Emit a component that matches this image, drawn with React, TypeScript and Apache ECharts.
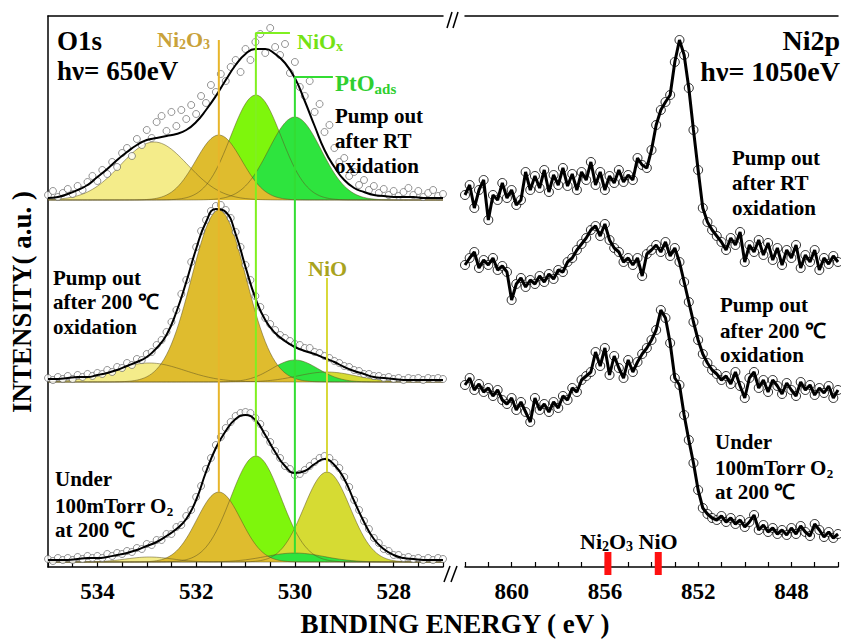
import React, { useEffect, useRef } from 'react';
import * as echarts from 'echarts';

const SERIF = "'Liberation Serif', 'Times New Roman', Times, serif";

// ---------- O1s (left panel) ----------
// measured points: 535.0 -> 527.0 eV, 0.1 eV step
const O1S_START = 535.0;
const O1S_STEP = 0.1;
// fit envelope: 535.0 -> 527.0 eV, 0.2 eV step
const FIT_STEP = 0.2;

// stacking offsets (a.u.)
const offRT = 367;
const off200 = 185;
const offUnder = 5;

const o1sDataRT = [
  5, 9, 3, 7, 11, 6, 14, 10, 18, 24,
  19, 30, 26, 38, 33, 47, 52, 44, 61, 55,
  70, 62, 78, 84, 69, 88, 74, 90, 81, 95,
  86, 104, 97, 115, 108, 126, 119, 133, 140, 128,
  151, 140, 158, 166, 147, 172, 153, 145, 156, 127,
  138, 113, 104, 119, 88, 96, 68, 75, 52, 38,
  42, 24, 28, 15, 20, 10, 14, 7, 11, 5,
  9, 4, 8, 12, 5, 9, 3, 7, 10, 4,
  6,
];
const o1sData200 = [
  4, 2, 5, 3, 6, 3, 7, 5, 8, 6,
  9, 8, 12, 10, 15, 14, 19, 17, 23, 22,
  28, 30, 37, 42, 50, 60, 72, 88, 102, 120,
  135, 151, 162, 171, 176, 177, 172, 164, 150, 135,
  117, 102, 86, 75, 64, 58, 52, 47, 44, 41,
  38, 37, 34, 34, 30, 29, 26, 24, 21, 19,
  16, 15, 12, 11, 8, 8, 6, 6, 4, 5,
  3, 4, 2, 4, 3, 4, 2, 4, 3, 4,
  3,
];
const o1sDataUnder = [
  3, 1, 4, 2, 4, 2, 5, 3, 6, 4,
  6, 4, 8, 6, 9, 8, 11, 10, 14, 13,
  18, 17, 22, 22, 28, 28, 35, 37, 46, 52,
  65, 76, 93, 104, 117, 125, 134, 140, 146, 149,
  150, 149, 144, 138, 128, 120, 111, 104, 96, 93,
  87, 88, 92, 96, 100, 104, 106, 104, 99, 94,
  85, 75, 62, 52, 41, 33, 24, 19, 13, 11,
  7, 7, 4, 5, 3, 4, 2, 4, 2, 4,
  3,
];

const o1sFitRT = [
  2, 3, 6, 10, 15, 23, 31, 40, 48, 55,
  60, 62, 64, 66, 70, 78, 90, 104, 120, 135,
  146, 151, 151, 146, 137, 122, 99, 74, 50, 33,
  20, 12, 8, 5, 4, 3, 3, 3, 2, 2,
  2,
];
const o1sFit200 = [
  3, 3, 4, 5, 5, 7, 9, 12, 16, 20,
  25, 34, 47, 70, 100, 133, 160, 173, 170, 148,
  115, 84, 62, 49, 41, 35, 31, 28, 24, 20,
  15, 11, 8, 5, 4, 3, 2, 2, 2, 2,
  2,
];
const o1sFitUnder = [
  2, 2, 2, 3, 4, 4, 5, 7, 9, 12,
  16, 20, 26, 33, 43, 62, 90, 114, 131, 143,
  147, 142, 127, 110, 96, 89, 91, 98, 103, 97,
  83, 61, 40, 23, 13, 7, 4, 3, 2, 2,
  2,
];

// fitted components: [center eV, height a.u., FWHM eV]
const peaksRT: Record<string, number[]> = {
  OH: [532.85, 58, 1.6],
  NiOx: [530.79, 105, 1.2],
  PtOads: [530.0, 83, 1.25],
  Ni2O3: [531.54, 65, 1.1],
};
const peaks200: Record<string, number[]> = {
  OH: [532.95, 19, 1.7],
  NiO: [529.35, 10, 1.4],
  PtOads: [530.0, 22, 1.1],
  Ni2O3: [531.54, 172, 1.3],
};
const peaksUnder: Record<string, number[]> = {
  OH: [532.95, 5, 1.1],
  NiOx: [530.79, 106, 1.2],
  NiO: [529.35, 90, 1.1],
  PtOads: [530.0, 9, 1.4],
  Ni2O3: [531.54, 70, 1.05],
};

// ---------- Ni2p (right panel) ----------
const NI_START = 862.0;
const NI_STEP = 0.2;
const ni2pRT = [
  372, 382, 359, 377, 387, 347, 372, 367, 384, 369,
  377, 362, 367, 395, 377, 391, 379, 397, 375, 392,
  382, 399, 381, 393, 377, 395, 387, 405, 382, 395,
  377, 391, 384, 397, 385, 392, 387, 409, 402, 399,
  417, 442, 457, 465, 472, 505, 527, 512, 479, 437,
  397, 359, 345, 337, 331, 325, 317, 329, 322, 335,
  305, 322, 315, 327, 312, 324, 307, 319, 302, 317,
  309, 322, 299, 312, 305, 317, 297, 309, 303, 311,
  305,
];
const ni2p200 = [
  302, 309, 315, 299, 307, 302, 309, 297, 301, 295,
  267, 283, 289, 280, 287, 283, 291, 285, 293, 288,
  297, 295, 305, 309, 317, 323, 329, 337, 341, 331,
  343, 327, 319, 315, 305, 309, 302, 309, 291, 313,
  317, 322, 315, 325, 311, 319, 305, 285, 265, 245,
  227, 213, 204, 197, 193, 187, 191, 183, 195, 181,
  169, 189, 195, 179, 187, 175, 187, 181, 173, 184,
  177, 171, 185, 177, 182, 172, 179, 174, 181, 169,
  177,
];
const ni2pUnder = [
  182, 189, 177, 183, 175, 179, 171, 177, 167, 163,
  169, 157, 165, 155, 145, 169, 157, 163, 155, 165,
  159, 171, 167, 179, 175, 187, 191, 195, 215, 201,
  219, 192, 211, 199, 189, 207, 195, 205, 213, 219,
  227, 237, 257, 249, 224, 189, 182, 152, 127, 104,
  77, 59, 53, 49, 47, 51, 45, 49, 43, 47,
  40, 45, 52, 37, 42, 35, 39, 33, 37, 32,
  39, 33, 41, 35, 31, 43, 37, 30, 35, 29,
  33,
];
// reference binding energies (eV)
const refNi2O3 = 855.87;
const refNiO = 853.71;

// ---------- styles ----------
const COLORS: Record<string, string> = {
  OH: '#f4ec8a',
  Ni2O3: '#dfbc2e',
  NiOx: '#7ef60c',
  PtOads: '#2ee43e',
  NiO: '#d6db33',
};
const LINE_COLORS: Record<string, string> = {
  Ni2O3: '#e8b52a',
  NiOx: '#80f020',
  PtOads: '#33dd33',
  NiO: '#d8d838',
};
const DRAW_ORDER = ['OH', 'NiOx', 'NiO', 'PtOads', 'Ni2O3'];

function gauss(e: number, c: number, h: number, w: number) {
  return h * Math.exp((-4 * Math.LN2 * (e - c) * (e - c)) / (w * w));
}

function gridPairs(start: number, step: number, vals: number[], off: number) {
  return vals.map((v, i) => [+(start - i * step).toFixed(3), v + off]);
}

function buildOption() {
  const fine: number[] = [];
  for (let i = 0; i <= 160; i++) fine.push(+(535 - i * 0.05).toFixed(3));

  const compSeries = (peaks: Record<string, number[]>, off: number) =>
    DRAW_ORDER.filter((k) => peaks[k]).map((k) => {
      const [c, h, w] = peaks[k];
      return {
        type: 'line',
        xAxisIndex: 0,
        yAxisIndex: 0,
        data: fine.map((e) => [e, off + gauss(e, c, h, w)]),
        symbol: 'none',
        showSymbol: false,
        silent: true,
        lineStyle: { width: 0.7, color: 'rgba(95,85,35,0.75)' },
        areaStyle: { color: COLORS[k], opacity: 1, origin: off },
        z: 2,
      };
    });

  const scatterO1s = (vals: number[], off: number) => ({
    type: 'scatter',
    xAxisIndex: 0,
    yAxisIndex: 0,
    data: gridPairs(O1S_START, O1S_STEP, vals, off),
    symbol: 'circle',
    symbolSize: 7,
    silent: true,
    itemStyle: { color: '#ffffff', borderColor: '#555', borderWidth: 0.8 },
    z: 3,
  });
  const fitO1s = (vals: number[], off: number) => ({
    type: 'line',
    xAxisIndex: 0,
    yAxisIndex: 0,
    data: gridPairs(O1S_START, FIT_STEP, vals, off),
    smooth: true,
    symbol: 'none',
    silent: true,
    lineStyle: { width: 2, color: '#000' },
    z: 4,
  });

  // annotation leader lines (bottom end = peak of the "Under" spectrum component)
  const leaders: { key: string; top: number; elbow: number | null }[] = [
    { key: 'Ni2O3', top: 527, elbow: null },
    { key: 'NiOx', top: 534, elbow: 530.1 },
    { key: 'PtOads', top: 490, elbow: 529.23 },
    { key: 'NiO', top: 289, elbow: null },
  ];
  const leaderSeries = leaders.map((l) => {
    const [c, h] = peaksUnder[l.key];
    const pts: number[][] = [
      [c, offUnder + h],
      [c, l.top],
    ];
    if (l.elbow !== null) pts.push([l.elbow, l.top]);
    return {
      type: 'line',
      xAxisIndex: 0,
      yAxisIndex: 0,
      data: pts,
      symbol: 'none',
      silent: true,
      lineStyle: { width: 2, color: LINE_COLORS[l.key] },
      z: 5,
    };
  });

  const niScatter = (vals: number[]) => ({
    type: 'scatter',
    xAxisIndex: 2,
    yAxisIndex: 1,
    data: gridPairs(NI_START, NI_STEP, vals, 0),
    symbol: 'circle',
    symbolSize: 9,
    silent: true,
    itemStyle: { color: '#fff', borderColor: '#000', borderWidth: 1 },
    z: 3,
  });
  const niLine = (vals: number[]) => ({
    type: 'line',
    xAxisIndex: 2,
    yAxisIndex: 1,
    data: gridPairs(NI_START, NI_STEP, vals, 0),
    symbol: 'none',
    silent: true,
    lineStyle: { width: 3, color: '#000' },
    z: 4,
  });
  const refMark = (e: number) => ({
    type: 'line',
    xAxisIndex: 2,
    yAxisIndex: 1,
    data: [
      [e, 15],
      [e, -8],
    ],
    symbol: 'none',
    clip: false,
    silent: true,
    lineStyle: { width: 7, color: '#ff1010', cap: 'butt' },
    z: 6,
  });

  const axisLineStyle = { color: '#000', width: 1.5 };
  const tickLabel = {
    fontSize: 23,
    fontWeight: 'bold',
    fontFamily: SERIF,
    color: '#000',
    margin: 13,
  };

  const txt = (
    x: number,
    y: number,
    text: string,
    size: number,
    color = '#000',
    align = 'left'
  ) => ({
    type: 'text',
    x,
    y,
    z: 100,
    silent: true,
    style: {
      text,
      align,
      verticalAlign: 'middle',
      fill: color,
      fontSize: size,
      fontWeight: 'bold',
      fontFamily: SERIF,
      rich: {
        s: {
          fontSize: Math.round(size * 0.64),
          fontWeight: 'bold',
          fontFamily: SERIF,
          fill: color,
          padding: [Math.round(size * 0.5), 0, 0, 0],
        },
      },
    },
  });
  const stroke = (x1: number, y1: number, x2: number, y2: number) => ({
    type: 'line',
    z: 100,
    silent: true,
    shape: { x1, y1, x2, y2 },
    style: { stroke: '#000', lineWidth: 1.5 },
  });

  return {
    animation: false,
    backgroundColor: '#fff',
    grid: [
      { left: 48, right: 398, top: 16, bottom: 73 },
      { left: 465, right: 0, top: 16, bottom: 73 },
    ],
    xAxis: [
      {
        gridIndex: 0,
        type: 'value',
        min: 527,
        max: 535,
        interval: 0.5,
        inverse: true,
        position: 'bottom',
        axisLine: { show: true, onZero: false, lineStyle: axisLineStyle },
        axisTick: { show: true, inside: true, length: 5, lineStyle: { color: '#000', width: 1.2 } },
        axisLabel: {
          ...tickLabel,
          formatter: (v: number) => (Math.abs(v % 2) < 1e-6 ? String(v) : ''),
        },
        splitLine: { show: false },
      },
      {
        gridIndex: 0,
        type: 'value',
        min: 527,
        max: 535,
        inverse: true,
        position: 'top',
        axisLine: { show: true, onZero: false, lineStyle: axisLineStyle },
        axisTick: { show: false },
        axisLabel: { show: false },
        splitLine: { show: false },
      },
      {
        gridIndex: 1,
        type: 'value',
        min: 846,
        max: 862,
        interval: 1,
        inverse: true,
        position: 'bottom',
        axisLine: { show: true, onZero: false, lineStyle: axisLineStyle },
        axisTick: { show: true, inside: true, length: 5, lineStyle: { color: '#000', width: 1.2 } },
        axisLabel: {
          ...tickLabel,
          formatter: (v: number) => (Math.abs(v % 4) < 1e-6 ? String(v) : ''),
        },
        splitLine: { show: false },
      },
      {
        gridIndex: 1,
        type: 'value',
        min: 846,
        max: 862,
        inverse: true,
        position: 'top',
        axisLine: { show: true, onZero: false, lineStyle: axisLineStyle },
        axisTick: { show: false },
        axisLabel: { show: false },
        splitLine: { show: false },
      },
    ],
    yAxis: [
      {
        gridIndex: 0,
        type: 'value',
        min: 0,
        max: 551,
        axisLine: { show: true, onZero: false, lineStyle: axisLineStyle },
        axisTick: { show: false },
        axisLabel: { show: false },
        splitLine: { show: false },
      },
      {
        gridIndex: 1,
        type: 'value',
        min: 0,
        max: 551,
        show: false,
        splitLine: { show: false },
      },
    ],
    series: [
      ...compSeries(peaksRT, offRT),
      ...compSeries(peaks200, off200),
      ...compSeries(peaksUnder, offUnder),
      scatterO1s(o1sDataRT, offRT),
      scatterO1s(o1sData200, off200),
      scatterO1s(o1sDataUnder, offUnder),
      fitO1s(o1sFitRT, offRT),
      fitO1s(o1sFit200, off200),
      fitO1s(o1sFitUnder, offUnder),
      ...leaderSeries,
      niScatter(ni2pRT),
      niScatter(ni2p200),
      niScatter(ni2pUnder),
      niLine(ni2pRT),
      niLine(ni2p200),
      niLine(ni2pUnder),
      refMark(refNi2O3),
      refMark(refNiO),
    ],
    graphic: [
      // axis break marks
      stroke(444, 582, 450, 566),
      stroke(451, 582, 457, 566),
      stroke(447, 28, 452, 12),
      stroke(453, 28, 458, 12),
      // axis titles
      {
        type: 'text',
        x: 455,
        y: 624,
        z: 100,
        silent: true,
        style: {
          text: 'BINDING ENERGY ( eV )',
          align: 'center',
          verticalAlign: 'middle',
          fill: '#000',
          fontSize: 27,
          fontWeight: 'bold',
          fontFamily: SERIF,
        },
      },
      {
        type: 'text',
        x: 22,
        y: 302,
        rotation: Math.PI / 2,
        z: 100,
        silent: true,
        style: {
          text: 'INTENSITY( a.u. )',
          align: 'center',
          verticalAlign: 'middle',
          fill: '#000',
          fontSize: 27,
          fontWeight: 'bold',
          fontFamily: SERIF,
        },
      },
      // left panel
      txt(57, 41, 'O1s', 27),
      txt(57, 71, 'hν= 650eV', 27),
      txt(157, 39, 'Ni{s|2}O{s|3}', 22, '#c9a23a'),
      txt(297, 41, 'NiO{s|x}', 22, '#74e214'),
      txt(335, 83, 'PtO{s|ads}', 23, '#2fcf2f'),
      txt(308, 268, 'NiO', 22, '#a9a31e'),
      txt(335, 116, 'Pump out', 21),
      txt(335, 141, 'after RT', 21),
      txt(335, 166, 'oxidation', 21),
      txt(53, 278, 'Pump out', 21),
      txt(53, 302, 'after 200 ℃', 21),
      txt(53, 327, 'oxidation', 21),
      txt(55, 479, 'Under', 21),
      txt(55, 506, '100mTorr O{s|2}', 21),
      txt(55, 530, 'at 200 ℃', 21),
      // right panel
      txt(840, 40, 'Ni2p', 28, '#000', 'right'),
      txt(840, 71, 'hν= 1050eV', 28, '#000', 'right'),
      txt(732, 158, 'Pump out', 21),
      txt(732, 183, 'after RT', 21),
      txt(732, 208, 'oxidation', 21),
      txt(720, 305, 'Pump out', 21),
      txt(720, 331, 'after 200 ℃', 21),
      txt(720, 355, 'oxidation', 21),
      txt(715, 442, 'Under', 21),
      txt(715, 468, '100mTorr O{s|2}', 21),
      txt(715, 492, 'at 200 ℃', 21),
      txt(580, 541, 'Ni{s|2}O{s|3} NiO', 22),
    ],
  };
}

export default function App() {
  const ref = useRef<HTMLDivElement>(null);
  useEffect(() => {
    if (!ref.current) return;
    const chart = echarts.init(ref.current, undefined, { renderer: 'svg' });
    chart.setOption(buildOption() as any);
    return () => chart.dispose();
  }, []);
  return (
    <div
      ref={ref}
      style={{ position: 'fixed', left: 0, top: 0, width: 841, height: 640, background: '#fff' }}
    />
  );
}
